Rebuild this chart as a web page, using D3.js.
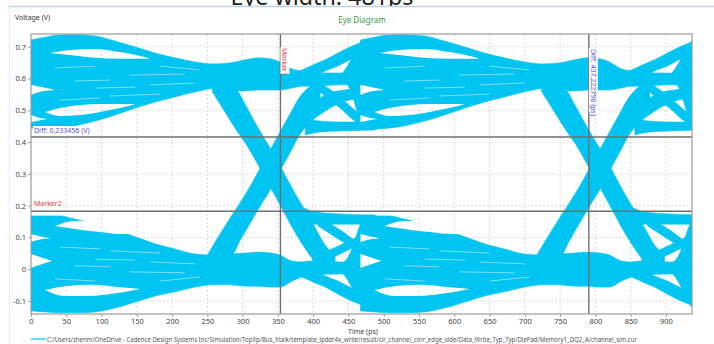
<!DOCTYPE html>
<html>
<head>
<meta charset="utf-8">
<script src="https://cdn.jsdelivr.net/npm/d3@7"></script>
<style>
  html, body { margin: 0; padding: 0; background: #fff; }
  svg { display: block; font-family: "Noto Sans", "Open Sans", sans-serif; }
</style>
</head>
<body>
<svg id="chart" width="714" height="344"></svg>
<script>
// axis ranges and ticks
const timeDomain = [0, 937];
const voltDomain = [-0.1406, 0.74];
const timeTicks = [0, 50, 100, 150, 200, 250, 300, 350, 400, 450, 500, 550, 600, 650, 700, 750, 800, 850, 900];
const voltTicks = [-0.1, 0, 0.1, 0.2, 0.3, 0.4, 0.5, 0.6, 0.7];
const voltTickLabels = ['-0.1', '0', '0.1', '0.2', '0.3', '0.4', '0.5', '0.6', '0.7'];

// eye is folded every unit interval (ps)
const uiStarts = [0, 467];

// trace bundles inside one UI: [time ps, low V, high V]
const highRail = [
  [0, 0.444, 0.721], [20, 0.441, 0.730], [41, 0.444, 0.737], [62, 0.451, 0.738],
  [91, 0.466, 0.734], [119, 0.485, 0.718], [148, 0.507, 0.699], [176, 0.526, 0.680],
  [204, 0.542, 0.665], [233, 0.558, 0.652], [257, 0.568, 0.646], [282, 0.561, 0.649],
  [304, 0.561, 0.659], [322, 0.564, 0.665], [339, 0.564, 0.662], [353, 0.564, 0.652],
  [370, 0.570, 0.630], [384, 0.576, 0.624], [396, 0.576, 0.620], [438, 0.580, 0.617],
  [488, 0.576, 0.617]
];
const lowRail = [
  [0, -0.131, 0.168], [20, -0.134, 0.168], [41, -0.137, 0.168], [62, -0.137, 0.158],
  [91, -0.134, 0.142], [119, -0.122, 0.124], [148, -0.103, 0.102], [176, -0.084, 0.080],
  [204, -0.071, 0.064], [233, -0.056, 0.048], [257, -0.049, 0.045], [282, -0.049, 0.048],
  [304, -0.053, 0.051], [322, -0.053, 0.054], [339, -0.056, 0.051], [353, -0.056, 0.045],
  [370, -0.037, 0.026], [384, -0.024, 0.023], [396, -0.018, 0.026], [438, -0.015, 0.023],
  [488, -0.015, 0.026]
];
const fallingEdge = [
  [257, 0.558, 0.568], [275, 0.495, 0.570], [292, 0.435, 0.561], [304, 0.397, 0.517],
  [318, 0.344, 0.460], [332, 0.287, 0.407], [346, 0.231, 0.356], [360, 0.174, 0.297],
  [374, 0.117, 0.240], [389, 0.064, 0.183], [403, 0.023, 0.130], [417, -0.002, 0.076],
  [431, -0.009, 0.045]
];
const risingEdge = [
  [250, 0.036, 0.045], [268, 0.036, 0.111], [285, 0.045, 0.171], [296, 0.089, 0.208],
  [311, 0.146, 0.262], [325, 0.199, 0.319], [339, 0.249, 0.375], [353, 0.309, 0.432],
  [367, 0.366, 0.488], [381, 0.423, 0.542], [396, 0.463, 0.576], [410, 0.491, 0.589]
];
const highTopArc = [
  [381, 0.596, 0.624], [403, 0.608, 0.646], [417, 0.624, 0.659], [435, 0.639, 0.680],
  [452, 0.659, 0.699], [474, 0.680, 0.718], [488, 0.696, 0.727]
];
const highDropBranch = [
  [399, 0.576, 0.596], [417, 0.545, 0.576], [438, 0.507, 0.542], [459, 0.466, 0.501],
  [488, 0.441, 0.469]
];
const highSettleBranch = [
  [389, 0.455, 0.525], [403, 0.476, 0.532], [424, 0.507, 0.555], [445, 0.529, 0.564],
  [474, 0.539, 0.570], [488, 0.542, 0.570]
];
const highBottomBranch = [
  [389, 0.423, 0.476], [410, 0.432, 0.466], [438, 0.435, 0.463], [488, 0.438, 0.463]
];
const highMerge = [
  [440, 0.598, 0.612], [452, 0.568, 0.652], [462, 0.500, 0.697], [470, 0.450, 0.718],
  [488, 0.441, 0.727]
];
const lowBottomArc = [
  [381, -0.021, 0.007], [403, -0.043, -0.005], [417, -0.056, -0.021], [435, -0.078, -0.037],
  [452, -0.097, -0.056], [474, -0.116, -0.078], [488, -0.125, -0.093]
];
const lowRiseBranch = [
  [399, 0.010, 0.036], [417, 0.026, 0.054], [438, 0.048, 0.076], [459, 0.070, 0.098],
  [488, 0.089, 0.117]
];
const lowTopBranch = [
  [379, 0.139, 0.202], [403, 0.142, 0.180], [438, 0.142, 0.174], [488, 0.142, 0.171]
];
const lowFallBranch = [
  [407, 0.136, 0.168], [438, 0.092, 0.124], [474, 0.042, 0.070], [488, 0.036, 0.061]
];
const lowMerge = [
  [440, -0.006, 0.016], [452, -0.045, 0.048], [462, -0.092, 0.112], [470, -0.118, 0.152],
  [488, -0.128, 0.168]
];

// open gaps between trace groups: [time ps, low V, high V]
const traceGaps = [
  [[27, 0.680, 0.680], [55, 0.674, 0.690], [91, 0.665, 0.693], [126, 0.662, 0.683], [155, 0.662, 0.671], [169, 0.662, 0.662]],
  [[0, 0.548, 0.580], [13, 0.558, 0.574], [34, 0.564, 0.564]],
  [[20, 0.495, 0.495], [41, 0.482, 0.507], [70, 0.485, 0.517], [98, 0.495, 0.520], [126, 0.507, 0.520], [148, 0.520, 0.520]],
  [[0, 0.463, 0.485], [13, 0.469, 0.476], [24, 0.473, 0.473]],
  [[34, 0.136, 0.136], [62, 0.127, 0.152], [98, 0.117, 0.152], [126, 0.111, 0.142], [155, 0.111, 0.127], [169, 0.114, 0.114]],
  [[0, 0.004, 0.048], [13, 0.014, 0.039], [30, 0.026, 0.026]],
  [[20, -0.065, -0.065], [48, -0.084, -0.053], [84, -0.084, -0.049], [112, -0.078, -0.053], [140, -0.068, -0.059], [155, -0.062, -0.062]],
  [[0, 0.086, 0.111], [16, 0.095, 0.102], [27, 0.098, 0.098]]
];

// thin light streaks between single traces: [time ps, V]
const traceStreaks = [
  [[62, 0.592], [112, 0.595]], [[34, 0.633], [91, 0.639]], [[140, 0.611], [218, 0.614]],
  [[112, 0.545], [183, 0.551]], [[169, 0.580], [233, 0.586]], [[41, 0.532], [98, 0.539]],
  [[91, 0.570], [148, 0.573]], [[183, 0.639], [240, 0.627]],
  [[62, 0.011], [112, 0.008]], [[34, -0.030], [91, -0.037]], [[140, -0.008], [218, -0.011]],
  [[112, 0.058], [183, 0.051]], [[169, 0.023], [233, 0.017]], [[41, 0.070], [98, 0.064]],
  [[91, 0.032], [148, 0.029]], [[183, -0.037], [240, -0.024]]
];

const bundles = [highRail, lowRail, fallingEdge, risingEdge, highTopArc, highDropBranch,
  highSettleBranch, highBottomBranch, highMerge, lowBottomArc, lowRiseBranch, lowTopBranch,
  lowFallBranch, lowMerge];

// cursors
const markerTimes = [353.6, 790.8];
const markerVolts = [0.416, 0.1826];

const titleText = 'Eye width: 481ps';
const legendText = 'C:/Users/zhenm/OneDrive - Cadence Design Systems Inc/Simulation/TopXp/Bus_Xtalk/template_lpddr4x_write/result/cir_channel_corr_edge_side/Data_Write_Typ_Typ/DiePad/Memory1_DQ2_A/channel_sim.cur';

const svg = d3.select('#chart');
const plot = { left: 31, right: 692, top: 34, bottom: 314 };
const traceColor = '#00c4f1';

const x = d3.scaleLinear().domain(timeDomain).range([plot.left, plot.right]);
const y = d3.scaleLinear().domain(voltDomain).range([plot.bottom, plot.top]);

// window header
svg.append('text')
  .attr('x', 322).attr('y', 5)
  .attr('text-anchor', 'middle')
  .attr('font-size', 24)
  .attr('fill', '#222')
  .attr('textLength', 183)
  .attr('lengthAdjust', 'spacingAndGlyphs')
  .text(titleText);
svg.append('rect').attr('x', 0).attr('y', 6).attr('width', 714).attr('height', 338).attr('fill', '#fff');
svg.append('line').attr('x1', 9).attr('x2', 714).attr('y1', 6.5).attr('y2', 6.5)
  .attr('stroke', '#bcd2ec').attr('stroke-width', 1.5);
svg.append('line').attr('x1', 9.5).attr('x2', 9.5).attr('y1', 7).attr('y2', 344)
  .attr('stroke', '#e6ebf2').attr('stroke-width', 1);

// grid
const grid = svg.append('g').attr('stroke', '#cfcfcf').attr('stroke-dasharray', '2,2').attr('stroke-width', 0.8);
grid.selectAll('.vg').data(timeTicks.slice(1)).enter().append('line')
  .attr('x1', d => x(d)).attr('x2', d => x(d))
  .attr('y1', plot.top).attr('y2', plot.bottom);
grid.selectAll('.hg').data(voltTicks).enter().append('line')
  .attr('x1', plot.left).attr('x2', plot.right)
  .attr('y1', d => y(d)).attr('y2', d => y(d));

// clip + gap mask
const defs = svg.append('defs');
defs.append('clipPath').attr('id', 'plotClip').append('rect')
  .attr('x', plot.left).attr('y', plot.top)
  .attr('width', plot.right - plot.left).attr('height', plot.bottom - plot.top);

const band = ui => d3.area()
  .x(d => x(d[0] + ui))
  .y0(d => y(d[1]))
  .y1(d => y(d[2]))
  .curve(d3.curveMonotoneX);
const streak = ui => d3.line()
  .x(d => x(d[0] + ui))
  .y(d => y(d[1]));

const mask = defs.append('mask').attr('id', 'gapMask').attr('maskUnits', 'userSpaceOnUse')
  .attr('x', 0).attr('y', 0).attr('width', 714).attr('height', 344);
mask.append('rect').attr('width', 714).attr('height', 344).attr('fill', '#fff');
uiStarts.forEach(ui => {
  mask.selectAll(null).data(traceGaps).enter().append('path')
    .attr('d', band(ui))
    .attr('fill', '#000');
  mask.selectAll(null).data(traceStreaks).enter().append('path')
    .attr('d', streak(ui))
    .attr('fill', 'none')
    .attr('stroke', '#6a6a6a')
    .attr('stroke-width', 0.8);
});

const traces = svg.append('g').attr('clip-path', 'url(#plotClip)')
  .append('g').attr('mask', 'url(#gapMask)');
uiStarts.forEach(ui => {
  traces.selectAll(null).data(bundles).enter().append('path')
    .attr('d', band(ui))
    .attr('fill', traceColor)
    .attr('stroke', traceColor)
    .attr('stroke-width', 0.6);
});

// cursors
const cursors = svg.append('g').attr('stroke', '#6e6e6e').attr('stroke-width', 1.4);
cursors.selectAll('.mv').data(markerTimes).enter().append('line')
  .attr('x1', d => x(d)).attr('x2', d => x(d))
  .attr('y1', plot.top).attr('y2', plot.bottom);
cursors.selectAll('.mh').data(markerVolts).enter().append('line')
  .attr('x1', plot.left).attr('x2', plot.right)
  .attr('y1', d => y(d)).attr('y2', d => y(d));

// plot frame
svg.append('rect')
  .attr('x', plot.left).attr('y', plot.top)
  .attr('width', plot.right - plot.left).attr('height', plot.bottom - plot.top)
  .attr('fill', 'none').attr('stroke', '#9b9b9b').attr('stroke-width', 1.2);

// axes
const yAxis = svg.append('g')
  .attr('transform', `translate(${plot.left},0)`)
  .call(d3.axisLeft(y).tickValues(voltTicks).tickSize(3).tickFormat((d, i) => voltTickLabels[i]));
const xAxis = svg.append('g')
  .attr('transform', `translate(0,${plot.bottom})`)
  .call(d3.axisBottom(x).tickValues(timeTicks).tickSize(3).tickFormat(d => d));
[yAxis, xAxis].forEach(a => {
  a.select('.domain').remove();
  a.selectAll('line').attr('stroke', '#a0a0a0');
  a.selectAll('text')
    .style('font-family', '"Noto Sans", sans-serif')
    .style('font-size', '7.5px')
    .attr('fill', '#444');
});
yAxis.selectAll('text').attr('x', -5);
xAxis.selectAll('text').attr('y', 5);

// titles
svg.append('text').attr('x', 15).attr('y', 20)
  .attr('font-size', 7).attr('fill', '#333').text('Voltage (V)');
svg.append('text').attr('x', 362).attr('y', 23).attr('text-anchor', 'middle')
  .attr('font-size', 8).attr('fill', '#3a9a4c').text('Eye Diagram');
svg.append('text').attr('x', 363).attr('y', 333.5).attr('text-anchor', 'middle')
  .attr('font-size', 7).attr('fill', '#444').text('Time (ps)');

// cursor labels
function tag(px, py, label, color, rotate, width) {
  const g = svg.append('g').attr('transform', `translate(${px},${py})${rotate ? ' rotate(90)' : ''}`);
  g.append('rect').attr('x', -1).attr('y', -7).attr('width', width).attr('height', 9).attr('fill', '#fff');
  g.append('text').attr('x', 0).attr('y', 0).attr('font-size', 7).attr('fill', color).text(label);
}
tag(x(markerTimes[0]) + 2, 48, 'Marker1', '#f23c3c', true, 27);
tag(x(markerTimes[1]) + 2, 49, 'Diff: 437.222798 (ps)', '#5a4fe0', true, 64);
tag(plot.left + 3, y(markerVolts[0]) - 4, 'Diff: 0.233456 (V)', '#5a4fe0', false, 60);
tag(plot.left + 3, y(markerVolts[1]) - 5, 'Marker2', '#f23c3c', false, 26);

// legend
svg.append('line').attr('x1', 31).attr('x2', 46).attr('y1', 339).attr('y2', 339)
  .attr('stroke', traceColor).attr('stroke-width', 1.2);
svg.append('text').attr('x', 47).attr('y', 341.5)
  .attr('font-size', 6.5).attr('fill', '#555')
  .attr('textLength', 590).attr('lengthAdjust', 'spacingAndGlyphs')
  .text(legendText);
</script>
</body>
</html>
